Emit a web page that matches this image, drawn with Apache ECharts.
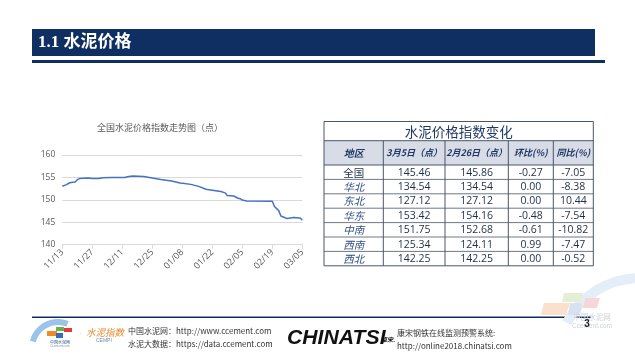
<!DOCTYPE html>
<html><head><meta charset="utf-8">
<script src="https://cdn.jsdelivr.net/npm/echarts@6/dist/echarts.min.js"></script>
<style>html,body{margin:0;padding:0;background:#fff}#c{width:635px;height:357px}</style>
</head><body><div id="c"></div>
<script>
// ---- line chart data (national cement price index) ----
const startDate = '2024-11-13';
const lineDates = ['2024-11-13','2024-11-15','2024-11-16','2024-11-17','2024-11-19','2024-11-20','2024-11-21','2024-11-25','2024-11-27','2024-11-30','2024-12-02','2024-12-06','2024-12-12','2024-12-14','2024-12-16','2024-12-21','2024-12-25','2024-12-29','2025-01-03','2025-01-07','2025-01-08','2025-01-12','2025-01-16','2025-01-19','2025-01-22','2025-01-26','2025-01-28','2025-01-29','2025-02-01','2025-02-03','2025-02-04','2025-02-05','2025-02-07','2025-02-19','2025-02-20','2025-02-22','2025-02-23','2025-02-25','2025-02-26','2025-03-01','2025-03-04','2025-03-05'];
const lineValues = [153.05,153.4,153.7,153.85,154.0,154.5,154.75,154.85,154.75,154.75,154.95,155.0,155.0,155.2,155.3,155.2,154.85,154.55,154.2,153.75,153.7,153.45,152.95,152.35,152.15,151.85,151.55,150.95,150.85,150.35,150.25,149.95,149.75,149.7,148.5,147.6,146.4,146.0,145.86,146.05,145.95,145.46];
const yTicks = {min:140, max:160, step:5};
const xTickDays = 14;
const xSpanDays = 112;

// ---- table data ----
const tableTitle = '水泥价格指数变化';
const tableHeaders = ['地区','3月5日（点）','2月26日（点）','环比(%)','同比(%)'];
const regions = ['全国','华北','东北','华东','中南','西南','西北'];
const mar5 = [145.46,134.54,127.12,153.42,151.75,125.34,142.25];
const feb26 = [145.86,134.54,127.12,154.16,152.68,124.11,142.25];
const momPct = [-0.27,0.00,0.00,-0.48,-0.61,0.99,0.00];
const yoyPct = [-7.05,-8.38,10.44,-7.54,-10.82,-7.47,-0.52];

const DAY = 86400000;
function toUTC(s){const p=s.split('-');return Date.UTC(+p[0],+p[1]-1,+p[2]);}
const t0 = toUTC(startDate);
const seriesData = lineDates.map((d,i)=>[(toUTC(d)-t0)/DAY, lineValues[i]]);
function fmtDay(v){const d=new Date(t0+v*DAY);const m=d.getUTCMonth()+1,dd=d.getUTCDate();return (m<10?'0':'')+m+'/'+(dd<10?'0':'')+dd;}

const navy = '#0f2f62';
const CJK = '"Noto Sans CJK SC","Noto Sans",sans-serif';
const LAT = '"Open Sans","Noto Sans CJK SC",sans-serif';
function T(o){o.verticalAlign=o.verticalAlign||'middle';o.textVerticalAlign=o.verticalAlign;if(o.align)o.textAlign=o.align;return {type:'text',style:o};}
const g = [];
// title bar
g.push({type:'rect',shape:{x:32,y:29,width:563,height:27},style:{fill:navy},silent:true});
g.push({type:'rect',shape:{x:32,y:60,width:573,height:3},style:{fill:navy},silent:true});
g.push(T({text:'1.1 水泥价格',x:38,y:43,fill:'#fff',fontSize:17,fontWeight:'bold',fontFamily:'"Liberation Serif","Noto Sans CJK SC",serif'}));

// table
const colX = [324,383.3,445,508.3,553.3,593.3];
const titleTop = 121.5, headTop = 140.7, headBottom = 165, rowH = 14.4;
const tableBottom = headBottom + rowH*regions.length;
const border = '#4a5568';
g.push({type:'rect',shape:{x:colX[0],y:headTop,width:colX[5]-colX[0],height:headBottom-headTop},style:{fill:'#d7dce6'}});
g.push({type:'rect',shape:{x:colX[0],y:titleTop,width:colX[5]-colX[0],height:tableBottom-titleTop},style:{fill:'none',stroke:border,lineWidth:1}});
g.push({type:'line',shape:{x1:colX[0],y1:headTop,x2:colX[5],y2:headTop},style:{stroke:border,lineWidth:1}});
g.push({type:'line',shape:{x1:colX[0],y1:headBottom,x2:colX[5],y2:headBottom},style:{stroke:border,lineWidth:1}});
for(let i=1;i<regions.length;i++){const y=headBottom+rowH*i;g.push({type:'line',shape:{x1:colX[0],y1:y,x2:colX[5],y2:y},style:{stroke:border,lineWidth:0.8}});}
for(let c=1;c<5;c++){g.push({type:'line',shape:{x1:colX[c],y1:headTop,x2:colX[c],y2:tableBottom},style:{stroke:border,lineWidth:1}});}
g.push(T({text:tableTitle,x:(colX[0]+colX[5])/2,y:(titleTop+headTop)/2+0.5,fill:'#1f3864',fontSize:13.5,fontFamily:CJK,align:'center'}));
tableHeaders.forEach((h,c)=>{g.push(T({text:h,x:(colX[c]+colX[c+1])/2,y:(headTop+headBottom)/2,fill:'#1f3864',fontSize:c===0?10:9,fontWeight:'bold',fontStyle:'italic',fontFamily:CJK,align:'center'}));});
const cols = [mar5,feb26,momPct,yoyPct];
regions.forEach((r,i)=>{
  const cy = headBottom+rowH*i+rowH/2+0.5;
  g.push(T({text:r,x:(colX[0]+colX[1])/2,y:cy,fill:i===0?'#1f2d4a':'#2f4f86',fontSize:10.5,fontStyle:i===0?'normal':'italic',fontFamily:CJK,align:'center'}));
  cols.forEach((arr,c)=>{g.push(T({text:arr[i].toFixed(2),x:(colX[c+1]+colX[c+2])/2,y:cy,fill:'#1f2d4a',fontSize:10.5,fontFamily:LAT,align:'center'}));});
});

// footer
g.push({type:'rect',shape:{x:32,y:316.5,width:559,height:1.5},style:{fill:navy}});
// left logo (ccement)
g.push({type:'arc',shape:{cx:58,cy:348,r:26,startAngle:Math.PI*1.08,endAngle:Math.PI*1.62},style:{stroke:'#9cc3e8',lineWidth:6,fill:'none'}});
g.push({type:'rect',shape:{x:47,y:331,width:10,height:5},style:{fill:'#f08a24'}});
g.push({type:'rect',shape:{x:56,y:327,width:8,height:4},style:{fill:'#6ab04c'}});
g.push({type:'rect',shape:{x:64,y:328,width:8,height:4},style:{fill:'#e03a3a'}});
g.push({type:'rect',shape:{x:56,y:333,width:7,height:5},style:{fill:'#2f6db5'}});
g.push(T({text:'中国水泥网',x:60,y:342,fill:'#1f4e8a',fontSize:4,fontFamily:CJK,align:'center'}));
g.push(T({text:'Ccement.com',x:60,y:346,fill:'#6f7f90',fontSize:3,fontFamily:LAT,align:'center'}));
g.push(T({text:'·',x:80,y:333,fill:'#999',fontSize:6,fontFamily:LAT}));
g.push(T({text:'水泥指数',x:86,y:332,fill:'#e8892a',fontSize:9.5,fontStyle:'italic',fontFamily:CJK}));
g.push(T({text:'CEMPI',x:96,y:341,fill:'#6f8fc0',fontSize:5,fontFamily:'"Liberation Sans",sans-serif'}));
g.push(T({text:'中国水泥网：http://www.ccement.com',x:128,y:331,fill:'#333',fontSize:8,fontFamily:CJK}));
g.push(T({text:'水泥大数据：https://data.ccement.com',x:128,y:344,fill:'#333',fontSize:8,fontFamily:CJK}));
g.push({type:'text',x:287,y:338,scaleX:1.06,style:{text:'CHINATSI',x:0,y:0,fill:'#111',fontSize:20,fontWeight:'900',fontStyle:'italic',fontFamily:'"Liberation Sans",sans-serif',verticalAlign:'middle',textVerticalAlign:'middle'}});
g.push(T({text:'卓宋.',x:381,y:340,fill:'#111',fontSize:6,fontWeight:'bold',fontStyle:'italic',fontFamily:CJK}));
g.push(T({text:'康宋钢铁在线监测预警系统:',x:397,y:333,fill:'#333',fontSize:8,fontFamily:CJK}));
g.push(T({text:'http://online2018.chinatsi.com',x:397,y:346,fill:'#333',fontSize:8,fontFamily:CJK}));
// right watermark
g.push({type:'arc',shape:{cx:640,cy:360,r:82,startAngle:Math.PI*1.15,endAngle:Math.PI*1.5},style:{stroke:'#e3eef9',lineWidth:10,fill:'none'}});
g.push({type:'polygon',shape:{points:[[544,303],[570,303],[566,315],[541,315]]},style:{fill:'#fbe0cc'}});
g.push({type:'polygon',shape:{points:[[564,293],[583,293],[581,302],[562,302]]},style:{fill:'#e2efd5'}});
g.push({type:'polygon',shape:{points:[[585,298],[600,298],[597,308],[583,308]]},style:{fill:'#f7d6d9'}});
g.push({type:'polygon',shape:{points:[[570,303],[582,303],[580,315],[568,315]]},style:{fill:'#d8e1f0'}});
g.push(T({text:'中国水泥网',x:592,y:317,fill:'#cdd2d8',fontSize:7.5,fontFamily:CJK,align:'center'}));
g.push(T({text:'Ccement.com',x:592,y:326,fill:'#cdd2d8',fontSize:6.5,fontFamily:'"Liberation Sans",sans-serif',align:'center'}));
g.push(T({text:'3',x:587,y:324,fill:'#222',fontSize:10,fontWeight:'bold',fontFamily:'"Liberation Sans",sans-serif',align:'center'}));

const chart = echarts.init(document.getElementById('c'));
chart.setOption({
  animation:false,
  backgroundColor:'#fff',
  title:{text:'全国水泥价格指数走势图（点）',left:155,top:118,textAlign:'center',textStyle:{fontSize:9,fontWeight:'normal',color:'#595959',fontFamily:CJK}},
  grid:{left:62.3,right:332.7,top:155,bottom:112.3,containLabel:false},
  xAxis:{type:'value',min:0,max:xSpanDays,interval:xTickDays,
    axisLine:{show:true,lineStyle:{color:'#d9d9d9'}},
    axisTick:{show:true,length:4,lineStyle:{color:'#d9d9d9'}},
    splitLine:{show:false},
    axisLabel:{rotate:45,fontSize:9,color:'#595959',margin:6,fontFamily:LAT,formatter:v=>fmtDay(v)}},
  yAxis:{type:'value',min:yTicks.min,max:yTicks.max,interval:yTicks.step,
    axisLine:{show:false},axisTick:{show:false},
    splitLine:{lineStyle:{color:'#d9d9d9'}},
    axisLabel:{fontSize:8.5,color:'#595959',margin:7,fontFamily:LAT}},
  series:[{type:'line',data:seriesData,showSymbol:false,lineStyle:{color:'#4472c4',width:1.5},itemStyle:{color:'#4472c4'}}],
  graphic:{elements:g}
});
</script></body></html>
